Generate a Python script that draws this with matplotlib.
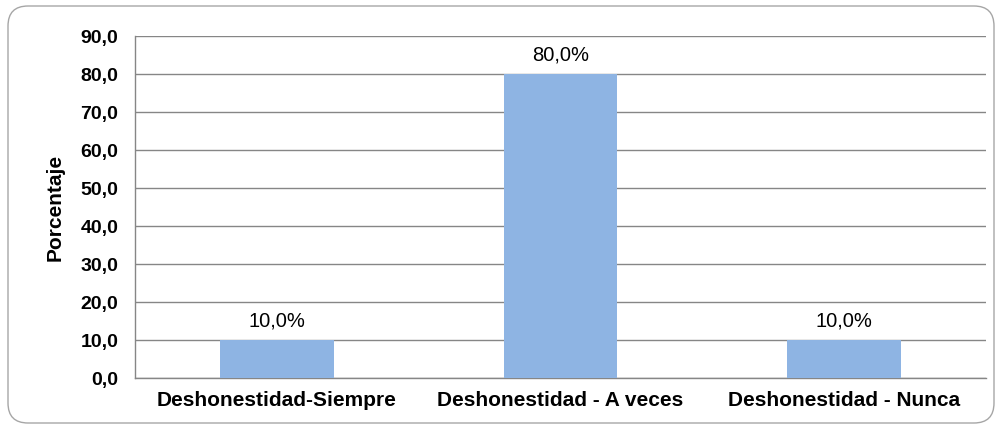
import matplotlib
matplotlib.use("Agg")
import matplotlib.pyplot as plt
from matplotlib.patches import FancyBboxPatch
import numpy as np

categories = ["Deshonestidad-Siempre", "Deshonestidad - A veces", "Deshonestidad - Nunca"]
values = [10.0, 80.0, 10.0]
yticks = [0, 10, 20, 30, 40, 50, 60, 70, 80, 90]

plt.rcParams['font.family'] = ['Liberation Sans', 'DejaVu Sans']

W, H = 1001, 428
fig = plt.figure(figsize=(W/100, H/100), dpi=100)

# rounded border
border = FancyBboxPatch((8/W, 5/H), (994-8)/W, (422-5)/H,
                        boxstyle="round,pad=0,rounding_size=0.02",
                        transform=fig.transFigure, facecolor='white',
                        edgecolor='#a6a6a6', linewidth=1.0, mutation_aspect=W/H,
                        zorder=-10)
fig.patches.append(border)

left, right, top, bottom = 135, 986, 36, 378
ax = fig.add_axes([left/W, 1-bottom/H, (right-left)/W, (bottom-top)/H])
ax.set_zorder(5)
ax.set_facecolor('none')

x = np.arange(len(categories))
ax.bar(x, values, width=0.4, color='#8EB4E3', zorder=3)
ax.set_xlim(-0.5, len(categories)-0.5)
ax.set_ylim(0, 90)
ax.set_yticks(yticks)
ax.set_yticklabels([f"{v:.1f}".replace('.', ',') for v in yticks], fontweight='bold', fontsize=14)
ax.set_xticks(x)
ax.set_xticklabels(categories, fontweight='bold', fontsize=15)
ax.tick_params(axis='y', length=0, pad=12)
ax.tick_params(axis='x', length=0, pad=9)
ax.yaxis.grid(True, color='#868686', linewidth=1.0, zorder=0)
ax.set_axisbelow(True)
for s in ['top', 'right']:
    ax.spines[s].set_visible(False)
for s in ['left', 'bottom']:
    ax.spines[s].set_color('#868686')
    ax.spines[s].set_linewidth(1.0)
ax.set_ylabel("Porcentaje", fontweight='bold', fontsize=15)
ax.yaxis.set_label_coords((65-left)/(right-left), 0.5)

for xi, v in zip(x, values):
    ax.annotate(f"{v:.1f}%".replace('.', ','), (xi, v), xytext=(0, 7),
                textcoords='offset points', ha='center', va='bottom', fontsize=14.5)

fig.savefig("out.png", dpi=100)
